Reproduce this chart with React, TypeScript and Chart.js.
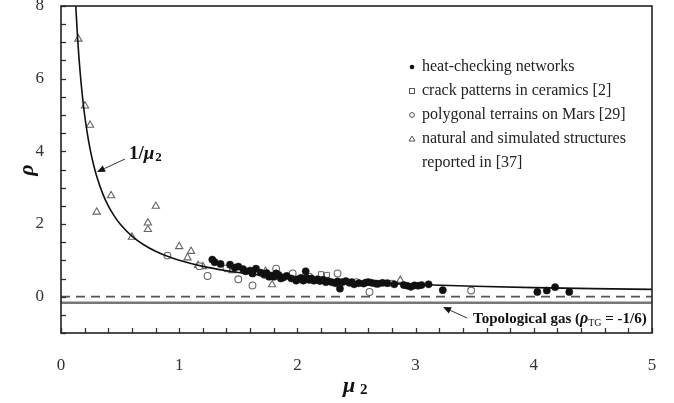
import React, { useEffect, useRef } from 'react';
import { Chart, registerables } from 'chart.js';

Chart.register(...registerables);

// heat-checking networks (filled dots)
const heatX = [1.28, 1.30, 1.35, 1.43, 1.47, 1.50, 1.54, 1.56, 1.60, 1.62, 1.65, 1.69, 1.72, 1.74, 1.76, 1.78, 1.80, 1.82, 1.84, 1.86, 1.88, 1.91, 1.95, 1.99, 2.00, 2.03, 2.05, 2.07, 2.08, 2.10, 2.12, 2.14, 2.17, 2.19, 2.22, 2.24, 2.26, 2.29, 2.32, 2.34, 2.36, 2.38, 2.41, 2.44, 2.46, 2.48, 2.52, 2.56, 2.58, 2.60, 2.63, 2.66, 2.68, 2.72, 2.76, 2.82, 2.90, 2.93, 2.96, 2.99, 3.02, 3.05, 3.11, 3.23, 4.03, 4.11, 4.18, 4.30];
const heatY = [1.02, 0.95, 0.90, 0.88, 0.80, 0.83, 0.76, 0.70, 0.72, 0.64, 0.77, 0.66, 0.62, 0.65, 0.55, 0.58, 0.55, 0.64, 0.60, 0.50, 0.53, 0.57, 0.50, 0.44, 0.48, 0.52, 0.44, 0.70, 0.52, 0.46, 0.50, 0.44, 0.48, 0.43, 0.46, 0.40, 0.43, 0.40, 0.37, 0.42, 0.22, 0.40, 0.43, 0.38, 0.40, 0.34, 0.37, 0.36, 0.39, 0.40, 0.38, 0.36, 0.35, 0.38, 0.37, 0.34, 0.32, 0.30, 0.27, 0.31, 0.30, 0.32, 0.34, 0.18, 0.13, 0.17, 0.26, 0.13];

// crack patterns in ceramics [2] (open squares)
const crackX = [1.62, 1.83, 2.05, 2.20, 2.25, 2.68, 2.72, 2.77, 2.80];
const crackY = [0.62, 0.55, 0.50, 0.62, 0.60, 0.38, 0.37, 0.36, 0.38];

// polygonal terrains on Mars [29] (open circles)
const marsX = [0.90, 1.17, 1.24, 1.40, 1.50, 1.62, 1.72, 1.82, 1.96, 2.10, 2.34, 2.50, 2.61, 3.47];
const marsY = [1.13, 0.84, 0.57, 0.78, 0.48, 0.31, 0.60, 0.77, 0.64, 0.55, 0.64, 0.40, 0.13, 0.17];

// natural and simulated structures reported in [37] (open triangles)
const natX = [0.147, 0.203, 0.246, 0.424, 0.302, 0.802, 0.735, 0.735, 0.60, 1.00, 1.10, 1.07, 1.16, 1.20, 1.45, 1.73, 1.786, 2.87];
const natY = [7.09, 5.25, 4.72, 2.78, 2.33, 2.49, 2.03, 1.85, 1.64, 1.38, 1.25, 1.07, 0.86, 0.83, 0.72, 0.70, 0.33, 0.45];

// 1/mu2 curve
const curveX = [0.125, 0.14, 0.16, 0.18, 0.2, 0.225, 0.25, 0.275, 0.3, 0.35, 0.4, 0.45, 0.5, 0.6, 0.7, 0.8, 0.9, 1.0, 1.2, 1.4, 1.6, 1.8, 2.0, 2.5, 3.0, 3.5, 4.0, 4.5, 5.0];
const curveY = [8, 7.143, 6.25, 5.556, 5, 4.444, 4, 3.636, 3.333, 2.857, 2.5, 2.222, 2, 1.667, 1.429, 1.25, 1.111, 1, 0.833, 0.714, 0.625, 0.556, 0.5, 0.4, 0.333, 0.286, 0.25, 0.222, 0.2];

// reference lines
const refLineX = [0, 5];
const zeroLineY = [0, 0];
const tgLineY = [-1 / 6, -1 / 6];

const xLabelTicks = [0, 1, 2, 3, 4, 5];
const yLabelTicks = [0, 2, 4, 6, 8];

const legendLabels = [
  'heat-checking networks',
  'crack patterns in ceramics [2]',
  'polygonal terrains on Mars [29]',
  'natural and simulated structures',
  'reported in [37]',
];

const SERIF = '"Liberation Serif", "Times New Roman", serif';

const pts = (xs: number[], ys: number[]) => xs.map((x, i) => ({ x, y: ys[i] }));

function arrow(ctx: CanvasRenderingContext2D, x1: number, y1: number, x2: number, y2: number) {
  const ang = Math.atan2(y2 - y1, x2 - x1);
  const hl = 8, hw = 3.5;
  const bx = x2 - hl * Math.cos(ang), by = y2 - hl * Math.sin(ang);
  ctx.beginPath();
  ctx.moveTo(x1, y1);
  ctx.lineTo(bx, by);
  ctx.strokeStyle = '#333';
  ctx.lineWidth = 1;
  ctx.stroke();
  ctx.beginPath();
  ctx.moveTo(x2, y2);
  ctx.lineTo(bx + hw * Math.sin(ang), by - hw * Math.cos(ang));
  ctx.lineTo(bx - hw * Math.sin(ang), by + hw * Math.cos(ang));
  ctx.closePath();
  ctx.fillStyle = '#111';
  ctx.fill();
}

const decorPlugin = {
  id: 'decor',
  afterDraw(chart: any) {
    const ctx: CanvasRenderingContext2D = chart.ctx;
    const { left, right, top, bottom } = chart.chartArea;
    const xs = chart.scales.x;
    const ys = chart.scales.y;
    ctx.save();
    // tick marks inside
    ctx.strokeStyle = '#333';
    ctx.lineWidth = 1.3;
    ys.ticks.forEach((t: any) => {
      const p = Math.round(ys.getPixelForValue(t.value)) + 0.5;
      ctx.beginPath();
      ctx.moveTo(left, p);
      ctx.lineTo(left + 5, p);
      ctx.stroke();
    });
    xs.ticks.forEach((t: any) => {
      const p = Math.round(xs.getPixelForValue(t.value)) + 0.5;
      ctx.beginPath();
      ctx.moveTo(p, bottom);
      ctx.lineTo(p, bottom - 5);
      ctx.stroke();
    });
    // frame
    ctx.lineWidth = 1.6;
    ctx.strokeStyle = '#222';
    ctx.strokeRect(left, top, right - left, bottom - top);

    // axis titles
    ctx.fillStyle = '#111';
    ctx.save();
    ctx.translate(27, 170);
    ctx.rotate(-Math.PI / 2);
    ctx.font = `italic bold 22px ${SERIF}`;
    ctx.textAlign = 'center';
    ctx.textBaseline = 'middle';
    ctx.fillText('ρ', 0, 0);
    ctx.restore();

    ctx.textAlign = 'left';
    ctx.textBaseline = 'alphabetic';
    ctx.font = `italic bold 22px ${SERIF}`;
    ctx.fillText('μ', 343, 392);
    ctx.font = `bold 15px ${SERIF}`;
    ctx.fillText('2', 360, 394);

    // 1/mu2 label
    ctx.font = `bold 19px ${SERIF}`;
    ctx.fillText('1/', 129, 159);
    let w = ctx.measureText('1/').width;
    ctx.font = `italic bold 19px ${SERIF}`;
    ctx.fillText('μ', 129 + w, 159);
    w += ctx.measureText('μ').width;
    ctx.font = `bold 13px ${SERIF}`;
    ctx.fillText('2', 129 + w + 1, 161);
    arrow(ctx, 125, 159, 97, 172);

    // topological gas label
    let tx = 473;
    const ty = 323;
    ctx.font = `bold 15px ${SERIF}`;
    const s1 = 'Topological gas (';
    ctx.fillText(s1, tx, ty);
    tx += ctx.measureText(s1).width;
    ctx.font = `italic bold 16px ${SERIF}`;
    ctx.fillText('ρ', tx, ty);
    tx += ctx.measureText('ρ').width;
    ctx.font = `10px ${SERIF}`;
    ctx.fillText('TG', tx, ty + 3);
    tx += ctx.measureText('TG').width;
    ctx.font = `bold 15px ${SERIF}`;
    ctx.fillText(' = -1/6)', tx, ty);
    arrow(ctx, 467, 318, 443, 307);

    // legend
    ctx.font = `16px ${SERIF}`;
    ctx.fillStyle = '#222';
    const base = [71, 95, 119, 143, 167];
    legendLabels.forEach((lab, i) => ctx.fillText(lab, 422, base[i]));
    const sx = 412;
    ctx.lineWidth = 1;
    ctx.strokeStyle = '#555';
    ctx.beginPath();
    ctx.arc(sx, 67, 2.3, 0, Math.PI * 2);
    ctx.fillStyle = '#111';
    ctx.fill();
    ctx.strokeRect(sx - 2.5, 88.5, 5, 5);
    ctx.beginPath();
    ctx.arc(sx, 115, 2.4, 0, Math.PI * 2);
    ctx.stroke();
    ctx.beginPath();
    ctx.moveTo(sx, 136);
    ctx.lineTo(sx + 3, 141);
    ctx.lineTo(sx - 3, 141);
    ctx.closePath();
    ctx.stroke();
    ctx.restore();
  },
};

export default function App() {
  const ref = useRef<HTMLCanvasElement | null>(null);
  useEffect(() => {
    if (!ref.current) return;
    const tickFont = { family: SERIF, size: 17 };
    const chart = new Chart(ref.current, {
      type: 'scatter',
      data: {
        datasets: [
          {
            label: 'heat-checking networks',
            data: pts(heatX, heatY),
            pointStyle: 'circle',
            pointRadius: 3.6,
            backgroundColor: '#111',
            borderColor: '#111',
            borderWidth: 0.5,
            order: 1,
          },
          {
            label: 'crack patterns in ceramics [2]',
            data: pts(crackX, crackY),
            pointStyle: 'rect',
            pointRadius: 3.5,
            backgroundColor: '#fff',
            borderColor: '#666',
            borderWidth: 1,
            order: 2,
          },
          {
            label: 'polygonal terrains on Mars [29]',
            data: pts(marsX, marsY),
            pointStyle: 'circle',
            pointRadius: 3.4,
            backgroundColor: '#fff',
            borderColor: '#666',
            borderWidth: 1.1,
            order: 3,
          },
          {
            label: 'natural and simulated structures reported in [37]',
            data: pts(natX, natY),
            pointStyle: 'triangle',
            pointRadius: 4.2,
            backgroundColor: '#fff',
            borderColor: '#666',
            borderWidth: 1.1,
            order: 4,
          },
          {
            label: '1/μ2',
            data: pts(curveX, curveY),
            showLine: true,
            pointRadius: 0,
            borderColor: '#111',
            borderWidth: 1.6,
            cubicInterpolationMode: 'monotone',
            fill: false,
            order: 0,
          },
          {
            label: 'zero',
            data: pts(refLineX, zeroLineY),
            showLine: true,
            pointRadius: 0,
            borderColor: '#555',
            borderWidth: 1.6,
            borderDash: [9, 6],
            order: 5,
          },
          {
            label: 'topological gas',
            data: pts(refLineX, tgLineY),
            showLine: true,
            pointRadius: 0,
            borderColor: '#777',
            borderWidth: 2.4,
            order: 6,
          },
        ] as any,
      },
      options: {
        animation: false,
        responsive: false,
        devicePixelRatio: 1,
        layout: { padding: { top: 6, right: 22, left: 0, bottom: 0 } },
        plugins: { legend: { display: false }, tooltip: { enabled: false } },
        scales: {
          x: {
            type: 'linear',
            min: 0,
            max: 5,
            grid: { display: false, drawTicks: false },
            border: { display: false },
            ticks: {
              stepSize: 0.2,
              font: tickFont,
              color: '#333',
              padding: 22,
              maxRotation: 0,
              autoSkip: false,
              callback: (v: any) => {
                const n = Number(v);
                const r = Math.round(n);
                return Math.abs(n - r) < 1e-6 && xLabelTicks.includes(r) ? String(r) : '';
              },
            },
            afterFit: (s: any) => {
              s.height = 70;
              s.paddingLeft = 0;
              s.paddingRight = 0;
            },
          },
          y: {
            type: 'linear',
            min: -1,
            max: 8,
            grid: { display: false, drawTicks: false },
            border: { display: false },
            ticks: {
              stepSize: 0.5,
              font: tickFont,
              color: '#333',
              padding: 17,
              autoSkip: false,
              callback: (v: any) => {
                const n = Number(v);
                const r = Math.round(n);
                return Math.abs(n - r) < 1e-6 && yLabelTicks.includes(r) ? String(r) : '';
              },
            },
            afterFit: (s: any) => {
              s.width = 61;
              s.paddingTop = 0;
              s.paddingBottom = 0;
            },
          },
        },
      } as any,
      plugins: [decorPlugin],
    });
    return () => chart.destroy();
  }, []);
  return (
    <div style={{ position: 'absolute', left: 0, top: 0, width: 674, height: 403, background: '#fff' }}>
      <canvas ref={ref} width={674} height={403} />
    </div>
  );
}
